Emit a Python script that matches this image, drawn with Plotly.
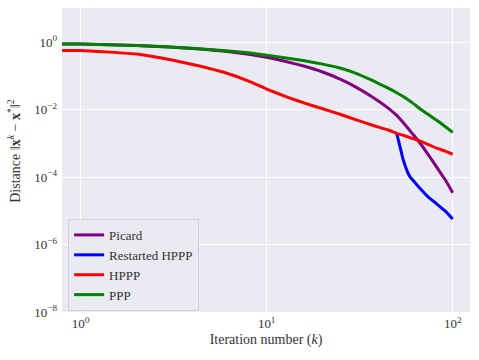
import plotly.graph_objects as go

# iteration numbers; the first entry stands for k = 0,
# which the original log axis clips to the left edge as a flat stub
k_main = [0.5, 1, 2, 3, 4, 6, 8, 10, 13, 16, 20, 25, 30, 37, 45, 50, 55, 61, 67, 74, 82, 91, 100]

# values
picard = [0.891, 0.891, 0.804, 0.724, 0.661, 0.543, 0.447, 0.363, 0.263, 0.195,
          0.132, 0.0794, 0.0479, 0.024, 0.0112, 0.0068, 0.0038, 0.0019,
          0.001, 0.00046, 0.0002, 0.000085, 0.0000347]
ppp = [0.891, 0.891, 0.804, 0.724, 0.668, 0.569, 0.49, 0.417, 0.339, 0.285,
       0.226, 0.17, 0.123, 0.0741, 0.0437, 0.032, 0.0234, 0.0158, 0.0105,
       0.0072, 0.0049, 0.0032, 0.00214]
hppp = [0.575, 0.575, 0.45, 0.31, 0.222, 0.126, 0.0708, 0.0412, 0.0234, 0.0158,
        0.0107, 0.00724, 0.00513, 0.00347, 0.00251, 0.002, 0.0017, 0.0014,
        0.00117, 0.00093, 0.000724, 0.00059, 0.000479]

k_restart = [50, 52, 54, 57, 59, 62, 67, 74, 82, 91, 100]
restarted = [0.002, 0.000832, 0.000355, 0.000148, 0.000102, 0.0000741,
             0.0000457, 0.0000257, 0.0000162, 0.00001, 0.00000575]

xtick_vals = [1, 10, 100]
xtick_text = ['10<sup>0</sup>', '10<sup>1</sup>', '10<sup>2</sup>']
ytick_vals = [1e-8, 1e-6, 1e-4, 1e-2, 1]
ytick_text = ['10<sup>−8</sup>', '10<sup>−6</sup>', '10<sup>−4</sup>',
              '10<sup>−2</sup>', '10<sup>0</sup>']

font = 'Liberation Serif'

fig = go.Figure()
series = [
    ('Picard', k_main, picard, '#800080'),
    ('Restarted HPPP', k_restart, restarted, '#0000ff'),
    ('HPPP', k_main, hppp, '#ff0000'),
    ('PPP', k_main, ppp, '#008000'),
]
for name, xs, ys, color in series:
    fig.add_trace(go.Scatter(
        x=xs, y=ys, name=name, mode='lines',
        line=dict(color=color, width=3, shape='spline', smoothing=0.3),
    ))

# y label as a rotated annotation so it sits close to the edge like the original
fig.add_annotation(
    text='Distance ‖<b>x</b><sup><i>k</i></sup> − <b>x</b><sup>*</sup>‖<sup>2</sup>',
    xref='paper', yref='paper', x=-0.118, y=0.53,
    xanchor='center', yanchor='middle', textangle=-90, showarrow=False,
    font=dict(size=14),
)

fig.update_layout(
    width=479, height=360,
    margin=dict(l=62, r=9, t=8, b=48),
    paper_bgcolor='white',
    plot_bgcolor='#eaeaf2',
    font=dict(family=font, size=13, color='#333333'),
    legend=dict(
        x=0.015, y=0.306, xanchor='left', yanchor='top',
        bgcolor='rgba(234,234,242,0.9)', bordercolor='#d0d0d8', borderwidth=1,
        font=dict(family=font, size=13, color='#333333'),
    ),
    xaxis=dict(
        type='log', range=[-0.1, 2.093], automargin=False,
        tickvals=xtick_vals, ticktext=xtick_text,
        gridcolor='white', gridwidth=1, zeroline=False,
        ticks='', ticklabelstandoff=2,
        title=dict(text='Iteration number (<i>k</i>)', standoff=4,
                   font=dict(size=14)),
    ),
    yaxis=dict(
        type='log', range=[-8, 1.02], automargin=False,
        tickvals=ytick_vals, ticktext=ytick_text,
        gridcolor='white', gridwidth=1, zeroline=False,
        ticks='', ticklabelstandoff=4,
    ),
)

fig.write_html('out.html', config={'displayModeBar': False},
               post_script="document.body.style.margin='0';")
